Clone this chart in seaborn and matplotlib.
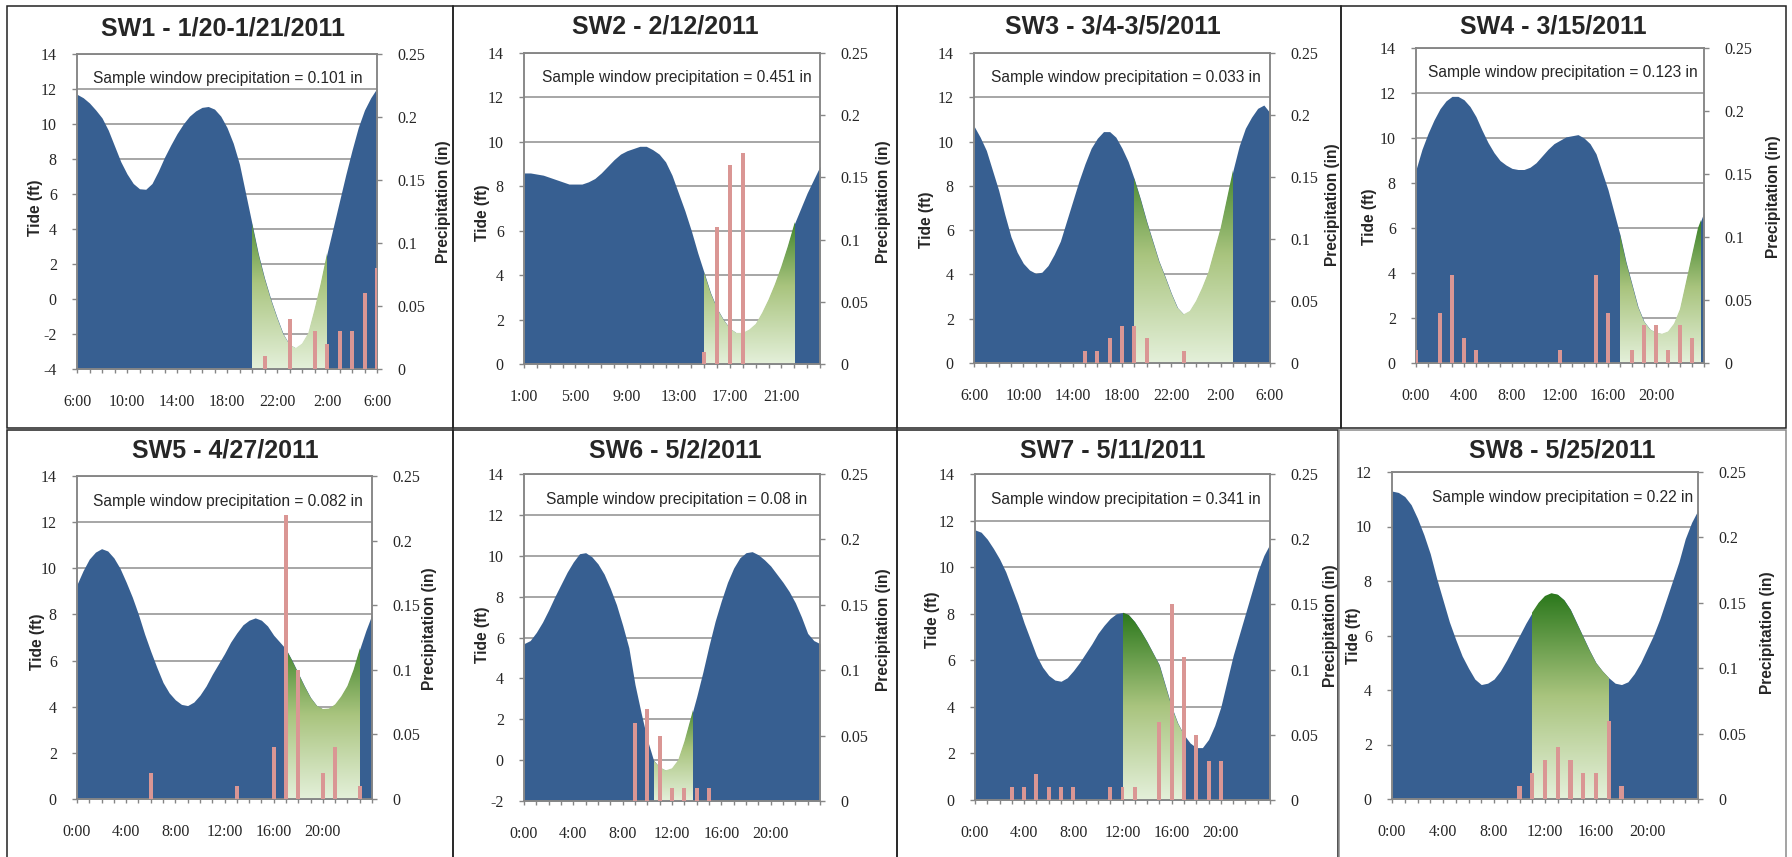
import numpy as np
import matplotlib
matplotlib.use("Agg")
import matplotlib.pyplot as plt
from matplotlib.colors import LinearSegmentedColormap
from matplotlib.patches import Polygon, Rectangle
import seaborn as sns

sns.set_theme(style="white")
plt.rcParams["font.family"] = ["Liberation Sans", "DejaVu Sans"]
plt.rcParams["axes.unicode_minus"] = False

# ---------------------------------------------------------------- data
titles = ["SW1 - 1/20-1/21/2011", "SW2 - 2/12/2011", "SW3 - 3/4-3/5/2011",
          "SW4 - 3/15/2011", "SW5 - 4/27/2011", "SW6 - 5/2/2011",
          "SW7 - 5/11/2011", "SW8 - 5/25/2011"]
window_precip = ["0.101", "0.451", "0.033", "0.123", "0.082", "0.08", "0.341", "0.22"]

# first / last hour of each tide record (hours after midnight of the first day)
start_hour = [6, 1, 6, 0, 0, 0, 0, 0]
end_hour = [30, 24, 30, 24, 24, 24, 24, 24]

# half-hourly tide height (ft)
tide_sw1 = [11.7, 11.5, 11.2, 10.8, 10.35, 9.65, 8.75, 7.85, 7.15, 6.6, 6.3, 6.27,
            6.6, 7.3, 8.1, 8.8, 9.45, 10.0, 10.45, 10.75, 10.95, 11.0, 10.85, 10.45,
            9.8, 8.9, 7.7, 6.0, 4.3, 2.6, 1.2, 0.0, -1.05, -2.0, -2.6, -2.8,
            -2.55, -1.95, -0.6, 0.9, 2.6, 4.1, 5.6, 7.1, 8.5, 9.8, 10.8, 11.5, 12.05]
tide_sw2 = [8.6, 8.6, 8.55, 8.5, 8.4, 8.3, 8.2, 8.1, 8.1, 8.1, 8.2, 8.35,
            8.6, 8.9, 9.2, 9.45, 9.6, 9.7, 9.8, 9.8, 9.65, 9.45, 9.1, 8.5,
            7.7, 6.9, 6.0, 5.0, 4.1, 3.2, 2.5, 2.0, 1.6, 1.4, 1.4, 1.55,
            1.8, 2.3, 2.9, 3.6, 4.4, 5.3, 6.3, 7.0, 7.7, 8.3, 8.9]
tide_sw3 = [10.7, 10.2, 9.6, 8.7, 7.8, 6.7, 5.7, 5.0, 4.5, 4.2, 4.05, 4.1,
            4.4, 4.9, 5.5, 6.4, 7.3, 8.2, 9.0, 9.7, 10.15, 10.45, 10.45, 10.2,
            9.7, 9.1, 8.3, 7.4, 6.4, 5.5, 4.6, 3.9, 3.15, 2.5, 2.2, 2.35,
            2.8, 3.4, 4.1, 5.1, 6.1, 7.4, 8.7, 9.8, 10.6, 11.1, 11.5, 11.65, 11.3]
tide_sw4 = [8.6, 9.5, 10.2, 10.8, 11.3, 11.65, 11.85, 11.85, 11.7, 11.4, 10.95, 10.35,
            9.8, 9.35, 9.0, 8.8, 8.65, 8.6, 8.6, 8.7, 8.9, 9.2, 9.5, 9.75,
            9.9, 10.05, 10.1, 10.15, 10.0, 9.75, 9.3, 8.5, 7.7, 6.7, 5.7, 4.5,
            3.5, 2.5, 1.85, 1.5, 1.35, 1.3, 1.4, 1.75, 2.4, 3.6, 4.8, 6.0, 6.7]
tide_sw5 = [9.3, 9.9, 10.4, 10.7, 10.85, 10.75, 10.45, 10.0, 9.4, 8.75, 8.0, 7.15,
            6.4, 5.7, 5.05, 4.6, 4.3, 4.1, 4.05, 4.2, 4.5, 4.9, 5.4, 5.85,
            6.3, 6.8, 7.2, 7.55, 7.75, 7.85, 7.75, 7.5, 7.1, 6.8, 6.5, 6.0,
            5.45, 4.9, 4.4, 4.05, 3.9, 3.92, 4.1, 4.45, 4.9, 5.6, 6.5, 7.3, 8.0]
tide_sw6 = [5.7, 5.85, 6.25, 6.75, 7.35, 8.0, 8.6, 9.2, 9.7, 10.1, 10.15, 9.95,
            9.6, 9.1, 8.4, 7.6, 6.6, 5.5, 3.7, 2.3, 1.0, 0.0, -0.35, -0.5,
            -0.4, 0.0, 0.9, 2.0, 3.1, 4.3, 5.6, 6.8, 7.8, 8.7, 9.4, 9.9,
            10.15, 10.2, 10.05, 9.8, 9.5, 9.1, 8.7, 8.25, 7.7, 7.0, 6.2, 5.85, 5.7]
tide_sw7 = [11.6, 11.5, 11.2, 10.8, 10.35, 9.8, 9.1, 8.4, 7.6, 6.9, 6.2, 5.7,
            5.35, 5.15, 5.1, 5.25, 5.55, 5.9, 6.3, 6.7, 7.15, 7.5, 7.8, 8.0,
            8.05, 7.95, 7.65, 7.25, 6.8, 6.3, 5.8, 4.9, 4.0, 3.3, 2.8, 2.45,
            2.25, 2.25, 2.6, 3.2, 4.0, 5.1, 6.2, 7.1, 8.0, 8.9, 9.8, 10.5, 11.0]
tide_sw8 = [11.3, 11.25, 11.1, 10.8, 10.3, 9.7, 9.0, 8.1, 7.3, 6.5, 5.85, 5.25,
            4.8, 4.4, 4.2, 4.25, 4.4, 4.7, 5.1, 5.55, 6.0, 6.45, 6.85, 7.2,
            7.45, 7.55, 7.5, 7.3, 6.95, 6.45, 5.95, 5.45, 5.0, 4.7, 4.45, 4.25,
            4.2, 4.3, 4.6, 5.0, 5.5, 6.0, 6.6, 7.3, 8.0, 8.7, 9.55, 10.15, 10.6]
tides = [tide_sw1, tide_sw2, tide_sw3, tide_sw4, tide_sw5, tide_sw6, tide_sw7, tide_sw8]

# hourly precipitation (in): hour of reading and amount
rain_hours_sw1 = [21, 23, 25, 26, 27, 28, 29, 30]
rain_sw1 = [0.01, 0.04, 0.03, 0.02, 0.03, 0.03, 0.06, 0.08]
rain_hours_sw2 = [15, 16, 17, 18]
rain_sw2 = [0.01, 0.11, 0.16, 0.17]
rain_hours_sw3 = [15, 16, 17, 18, 19, 20, 23]
rain_sw3 = [0.01, 0.01, 0.02, 0.03, 0.03, 0.02, 0.01]
rain_hours_sw4 = [0, 2, 3, 4, 5, 12, 15, 16, 18, 19, 20, 21, 22, 23]
rain_sw4 = [0.01, 0.04, 0.07, 0.02, 0.01, 0.01, 0.07, 0.04, 0.01, 0.03, 0.03, 0.01, 0.03, 0.02]
rain_hours_sw5 = [6, 13, 16, 17, 18, 20, 21, 23]
rain_sw5 = [0.02, 0.01, 0.04, 0.22, 0.10, 0.02, 0.04, 0.01]
rain_hours_sw6 = [9, 10, 11, 12, 13, 14, 15]
rain_sw6 = [0.06, 0.07, 0.05, 0.01, 0.01, 0.01, 0.01]
rain_hours_sw7 = [3, 4, 5, 6, 7, 8, 11, 12, 13, 15, 16, 17, 18, 19, 20]
rain_sw7 = [0.01, 0.01, 0.02, 0.01, 0.01, 0.01, 0.01, 0.01, 0.01, 0.06, 0.15, 0.11, 0.05, 0.03, 0.03]
rain_hours_sw8 = [10, 11, 12, 13, 14, 15, 16, 17, 18]
rain_sw8 = [0.01, 0.02, 0.03, 0.04, 0.03, 0.02, 0.02, 0.06, 0.01]
rain_hours = [rain_hours_sw1, rain_hours_sw2, rain_hours_sw3, rain_hours_sw4,
              rain_hours_sw5, rain_hours_sw6, rain_hours_sw7, rain_hours_sw8]
rains = [rain_sw1, rain_sw2, rain_sw3, rain_sw4, rain_sw5, rain_sw6, rain_sw7, rain_sw8]

# sample window (start hour, end hour)
windows = [(20, 26), (15, 22), (19, 27), (17, 23.75), (17, 23), (10.5, 13.6), (12, 17), (11, 17)]

# tide axis range (ft)
tide_range = [(-4, 14), (0, 14), (0, 14), (0, 14), (0, 14), (-2, 14), (0, 14), (0, 12)]
precip_ticks = [0, 0.05, 0.1, 0.15, 0.2, 0.25]
precip_ticklabels = ["0", "0.05", "0.1", "0.15", "0.2", "0.25"]

# ---------------------------------------------------------------- layout (pixels)
W, H = 1792, 857
axes_px = [(77, 377, 54, 369), (524, 820, 53, 364), (974, 1270, 53, 363), (1416, 1704, 48, 363),
           (77, 372, 476, 799), (524, 820, 474, 801), (975, 1270, 474, 800), (1392, 1698, 472, 799)]
frame_px = [(7, 453, 6, 428), (453, 897, 6, 428), (897, 1341, 6, 428), (1341, 1786, 6, 428),
            (7, 453, 430, 858), (453, 897, 430, 858), (897, 1338, 430, 858), (1339, 1786, 430, 858)]
title_px = [(223, 28), (665, 27), (1113, 27), (1553, 27),
            (225, 451), (675, 451), (1113, 451), (1562, 451)]
tide_label_px = [(35, 208), (482, 213), (926, 220), (1369, 217),
                 (37, 642), (482, 635), (932, 620), (1353, 636)]
precip_label_px = [(443, 202), (883, 202), (1332, 205), (1773, 197),
                   (429, 629), (883, 630), (1330, 626), (1767, 633)]
note_x = [0.953, 0.973, 0.97, 0.979, 0.969, 0.956, 0.97, 0.984]
label_last = [True, False, True, False, False, False, False, False]
frame_colors = ["#222222"] * 7 + ["#8a8a8a"]

BLUE = "#375F91"
PINK = "#DA9694"
GRID = "#8E8E8E"
SPINE = "#868686"
GREEN = LinearSegmentedColormap.from_list(
    "window", [(0.0, "#E4F0DA"), (0.5, "#A9C47E"), (1.0, "#2B781C")])
SERIF = "Liberation Serif"

fig = plt.figure(figsize=(W / 100, H / 100), dpi=100)
fig.patch.set_facecolor("white")


def fbox(l, r, t, b):
    return [l / W, 1 - b / H, (r - l) / W, (b - t) / H]


for i in range(8):
    ax = fig.add_axes(fbox(*axes_px[i]))
    y = np.array(tides[i], dtype=float)
    x = start_hour[i] + 0.5 * np.arange(len(y))
    lo, hi = tide_range[i]
    x0, x1 = start_hour[i], end_hour[i]

    # tide area
    ax.fill_between(x, lo, y, color=BLUE, lw=0, zorder=1)

    # sample-window gradient, clipped to the tide area
    ws, we = windows[i]
    sel = (x >= ws - 0.5) & (x <= we + 0.5)
    top = y[sel].max()
    grad = np.linspace(0, 1, 256).reshape(-1, 1)
    im = ax.imshow(grad, cmap=GREEN, extent=[ws, we, lo, top], origin="lower",
                   aspect="auto", zorder=2, interpolation="bilinear")
    verts = np.column_stack([np.r_[x[0], x, x[-1]], np.r_[lo, y, lo]])
    clip = Polygon(verts, closed=True, fc="none", ec="none", transform=ax.transData)
    ax.add_patch(clip)
    im.set_clip_path(clip)

    ax.set_xlim(x0, x1)
    ax.set_ylim(lo, hi)
    ax.set_xlabel("")
    ax.set_ylabel("")

    yt = np.arange(lo, hi + 0.1, 2)
    ax.set_yticks(yt)
    ax.set_yticklabels([str(int(v)) for v in yt])
    hours = np.arange(x0, x1 + 1)
    xl = []
    for h in hours:
        show = (h - x0) % 4 == 0 and (h != x1 or label_last[i])
        xl.append(f"{h % 24}:00" if show else "")

    ax.yaxis.grid(True, color=GRID, lw=1.1)
    ax.xaxis.grid(False)
    ax.set_axisbelow(True)
    for s in ax.spines.values():
        s.set_color(SPINE)
        s.set_linewidth(1.1)
        s.set_visible(True)
    ax.tick_params(axis="x", direction="out", length=3.2, width=1, color=SPINE,
                   labelsize=11.5, pad=15, labelfontfamily=SERIF, bottom=True)
    ax.tick_params(axis="y", direction="out", length=3.5, width=1, color=SPINE,
                   labelsize=11.5, pad=11, labelfontfamily=SERIF, left=True)

    ax.text(note_x[i], 0.922, f"Sample window precipitation = {window_precip[i]} in",
            transform=ax.transAxes, ha="right", va="center", fontsize=11.2, zorder=5)

    # precipitation bars on the secondary axis
    ax2 = ax.twinx()
    sns.barplot(x=rain_hours[i], y=rains[i], native_scale=True, ax=ax2, color=PINK,
                saturation=1, width=0.32, errorbar=None, linewidth=0, zorder=3)
    ax2.set_xlim(x0, x1)
    ax2.set_ylim(0, 0.25)
    ax2.set_yticks(precip_ticks)
    ax2.set_yticklabels(precip_ticklabels)
    ax2.set_xlabel("")
    ax2.set_ylabel("")
    ax2.grid(False)
    for s in ax2.spines.values():
        s.set_color(SPINE)
        s.set_linewidth(1.1)
    ax2.tick_params(axis="y", direction="out", length=3.5, width=1, color=SPINE,
                    labelsize=11.5, pad=11, labelfontfamily=SERIF, right=True)
    ax.set_xticks(hours)
    ax.set_xticklabels(xl)

    # texts and panel frame
    tx, ty = title_px[i]
    fig.text(tx / W, 1 - ty / H, titles[i], ha="center", va="center",
             fontsize=18, fontweight="bold")
    lx, ly = tide_label_px[i]
    fig.text(lx / W, 1 - ly / H, "Tide (ft)", rotation=90, ha="center", va="center",
             fontsize=11.2, fontweight="bold")
    px_, py_ = precip_label_px[i]
    fig.text(px_ / W, 1 - py_ / H, "Precipitation (in)", rotation=90, ha="center",
             va="center", fontsize=11.2, fontweight="bold")
    l, r, t, b = frame_px[i]
    fig.add_artist(Rectangle((l / W, 1 - b / H), (r - l) / W, (b - t) / H,
                             transform=fig.transFigure, fill=False,
                             ec=frame_colors[i], lw=1.1))

fig.savefig("out.png", dpi=100, facecolor="white")
